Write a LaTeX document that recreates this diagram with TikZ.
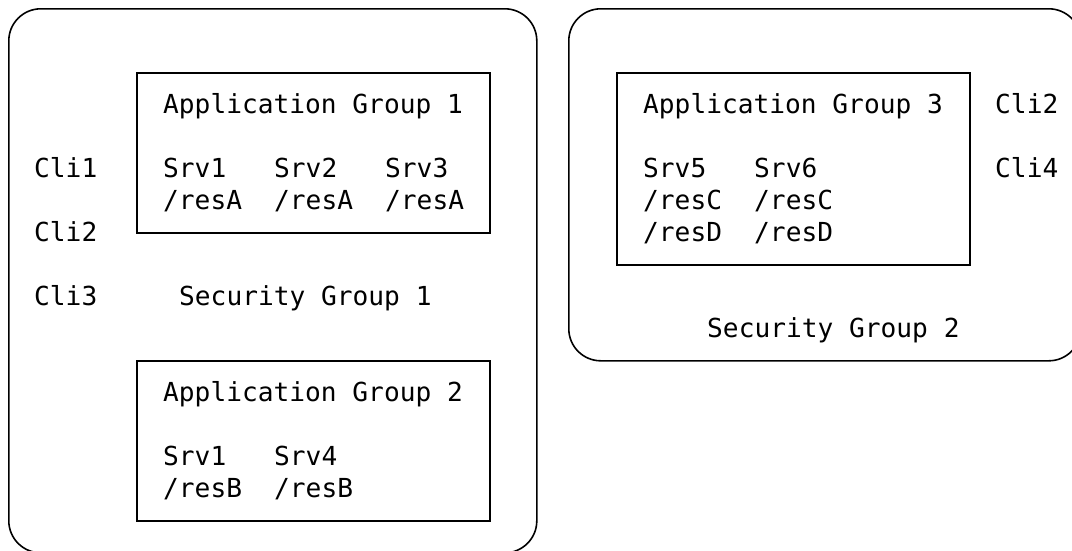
\documentclass[tikz,border=0pt]{standalone}
\usepackage{fontspec}
\newfontfamily\dvsm{DejaVu Sans Mono}
\begin{document}
\begin{tikzpicture}[x=1pt,y=-1pt,
  txt/.style={font=\fontsize{26.2}{32}\selectfont\dvsm, anchor=base west, inner sep=0pt},
  secbox/.style={draw, line width=1.6pt, rounded corners=32pt, anchor=north west, inner sep=0pt},
  appbox/.style={draw, line width=1.6pt, anchor=north west, inner sep=0pt}]
\useasboundingbox (0,0) rectangle (1072,550);
\clip (0,0) rectangle (1072,550);
% security groups
\node[secbox, minimum width=528pt, minimum height=544pt] (sg1) at (8,8) {};
\node[secbox, minimum width=512pt, minimum height=352pt] (sg2) at (568,8) {};
% application groups
\node[appbox, minimum width=353pt, minimum height=160pt] (ag1) at (136,72) {};
\node[appbox, minimum width=353pt, minimum height=160pt] (ag2) at (136,360) {};
\node[appbox, minimum width=353pt, minimum height=192pt] (ag3) at (616,72) {};
% security group 1 texts
\node[txt] (cli1a) at (34,177) {Cli1};
\node[txt] (cli2a) at (34,241) {Cli2};
\node[txt] (cli3a) at (34,305) {Cli3};
\node[txt] (sg1t) at (179,305) {Security Group 1};
% application group 1
\node[txt] (ag1t) at (163,113) {Application Group 1};
\node[txt] (s1a) at (163,177) {Srv1};
\node[txt] (s2a) at (274,177) {Srv2};
\node[txt] (s3a) at (385,177) {Srv3};
\node[txt] (r1a) at (163,209) {/resA};
\node[txt] (r2a) at (274,209) {/resA};
\node[txt] (r3a) at (385,209) {/resA};
% application group 2
\node[txt] (ag2t) at (163,401) {Application Group 2};
\node[txt] (s1b) at (163,465) {Srv1};
\node[txt] (s4b) at (274,465) {Srv4};
\node[txt] (r1b) at (163,497) {/resB};
\node[txt] (r4b) at (274,497) {/resB};
% application group 3
\node[txt] (ag3t) at (643,113) {Application Group 3};
\node[txt] (s5) at (643,177) {Srv5};
\node[txt] (s6) at (754,177) {Srv6};
\node[txt] (rc5) at (643,209) {/resC};
\node[txt] (rc6) at (754,209) {/resC};
\node[txt] (rd5) at (643,241) {/resD};
\node[txt] (rd6) at (754,241) {/resD};
% security group 2 texts
\node[txt] (cli2b) at (995,113) {Cli2};
\node[txt] (cli4b) at (995,177) {Cli4};
\node[txt] (sg2t) at (707,337) {Security Group 2};
\end{tikzpicture}
\end{document}
